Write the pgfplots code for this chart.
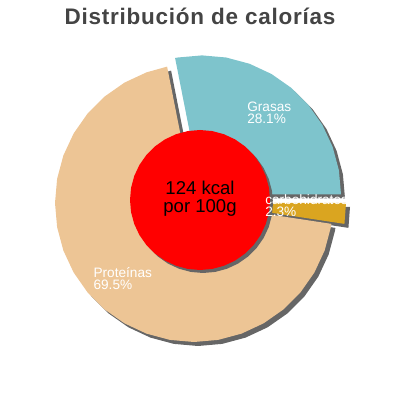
\documentclass[border=0pt]{standalone}
\usepackage{fontspec}
\setmainfont{Liberation Sans}
\usepackage{pgfplots}
\pgfplotsset{compat=1.18}
\usepgfplotslibrary{polar}

\definecolor{grasas}{HTML}{7EC4CC}
\definecolor{proteinas}{HTML}{EDC595}
\definecolor{carbos}{HTML}{DAA520}
\definecolor{sombra}{HTML}{666666}
\definecolor{titulo}{HTML}{444444}

\begin{document}
\begin{tikzpicture}
\begin{axis}[
  scale only axis,
  width=10cm, height=10cm,
  xmin=-200, xmax=200, ymin=-200, ymax=200,
  hide axis,
  clip=false,
  every axis plot/.append style={no marks, draw=none, data cs=polar},
]

% shadows
\addplot[fill=sombra, xshift=-0.05cm, yshift=-0.175cm]
  coordinates {(0,0) (101.16,139) (110,139) (120,139) (130,139) (140,139) (150,139)
  (160,139) (170,139) (180,139) (190,139) (200,139) (210,139) (220,139) (230,139)
  (240,139) (250,139) (260,139) (270,139) (280,139) (290,139) (300,139) (310,139)
  (320,139) (330,139) (340,139) (350,139) (351.36,139)};
\addplot[fill=sombra, xshift=0.15cm, yshift=0.04cm]
  coordinates {(0,0) (0,139) (10,139) (20,139) (30,139) (40,139) (50,139) (60,139)
  (70,139) (80,139) (90,139) (100,139) (101.16,139)};
\addplot[fill=sombra, xshift=0.275cm, yshift=-0.175cm]
  coordinates {(0,0) (351.36,139) (360,139)};

% slices
\addplot[fill=proteinas, xshift=-0.15cm, yshift=-0.075cm]
  coordinates {(0,0) (101.16,139) (110,139) (120,139) (130,139) (140,139) (150,139)
  (160,139) (170,139) (180,139) (190,139) (200,139) (210,139) (220,139) (230,139)
  (240,139) (250,139) (260,139) (270,139) (280,139) (290,139) (300,139) (310,139)
  (320,139) (330,139) (340,139) (350,139) (351.36,139)};
\addplot[fill=grasas, xshift=0.05cm, yshift=0.14cm]
  coordinates {(0,0) (0,139) (10,139) (20,139) (30,139) (40,139) (50,139) (60,139)
  (70,139) (80,139) (90,139) (100,139) (101.16,139)};
\addplot[fill=carbos, xshift=0.175cm, yshift=-0.075cm]
  coordinates {(0,0) (351.36,139) (360,139)};

% centre disc
\addplot[fill=sombra, xshift=0.075cm, yshift=-0.075cm]
  coordinates {(0,70) (10,70) (20,70) (30,70) (40,70) (50,70) (60,70) (70,70) (80,70)
  (90,70) (100,70) (110,70) (120,70) (130,70) (140,70) (150,70) (160,70) (170,70)
  (180,70) (190,70) (200,70) (210,70) (220,70) (230,70) (240,70) (250,70) (260,70)
  (270,70) (280,70) (290,70) (300,70) (310,70) (320,70) (330,70) (340,70) (350,70)};
\addplot[fill=red]
  coordinates {(0,70) (10,70) (20,70) (30,70) (40,70) (50,70) (60,70) (70,70) (80,70)
  (90,70) (100,70) (110,70) (120,70) (130,70) (140,70) (150,70) (160,70) (170,70)
  (180,70) (190,70) (200,70) (210,70) (220,70) (230,70) (240,70) (250,70) (260,70)
  (270,70) (280,70) (290,70) (300,70) (310,70) (320,70) (330,70) (340,70) (350,70)};

% labels
\begin{scope}[every node/.style={text=white, font=\fontsize{9.7}{10}\selectfont, inner sep=0pt, anchor=base west}]
\node at (axis cs:47,88.2) {Grasas};
\node at (axis cs:47,76.3) {28.1\%};
\node at (axis cs:65,-5) {carbohidratos};
\node at (axis cs:65,-16.9) {2.3\%};
\node at (axis cs:-106.7,-77.3) {Proteínas};
\node at (axis cs:-106.7,-89.2) {69.5\%};
\end{scope}
\node[inner sep=0pt, anchor=base, font=\fontsize{13.2}{15}\selectfont] at (axis cs:0,5) {124 kcal};
\node[inner sep=0pt, anchor=base, font=\fontsize{13.2}{15}\selectfont] at (axis cs:0,-12.7) {por 100g};
\node[inner sep=0pt, anchor=base, text=titulo, font=\fontsize{16}{18}\selectfont\bfseries\addfontfeature{LetterSpace=3.3}] at (axis cs:0,175) {Distribución de calorías};
\end{axis}
\useasboundingbox (current axis.south west) rectangle (current axis.north east);
\end{tikzpicture}
\end{document}
